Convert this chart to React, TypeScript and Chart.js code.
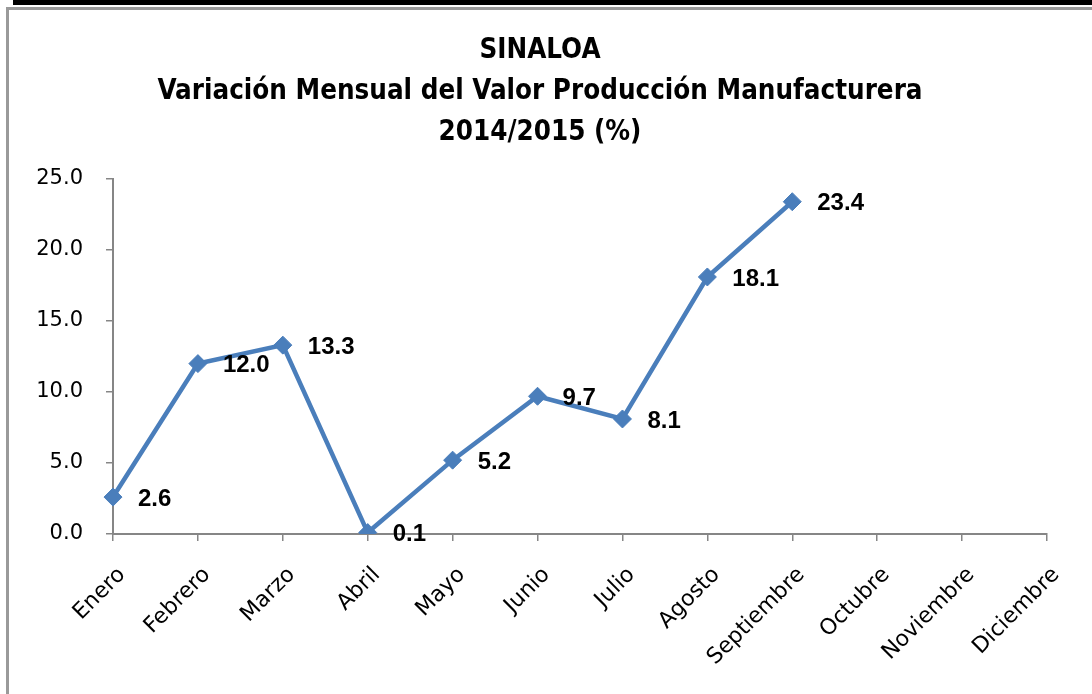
import React, { useEffect, useRef } from "react";
import { Chart, registerables } from "chart.js";

Chart.register(...registerables);

const titleLines = [
  "SINALOA",
  "Variación Mensual del Valor Producción Manufacturera",
  "2014/2015 (%)",
];
const months = [
  "Enero", "Febrero", "Marzo", "Abril", "Mayo", "Junio",
  "Julio", "Agosto", "Septiembre", "Octubre", "Noviembre", "Diciembre",
];
const variation: (number | null)[] = [2.6, 12.0, 13.3, 0.1, 5.2, 9.7, 8.1, 18.1, 23.4, null, null, null];
const yMin = 0;
const yMax = 25;
const yStep = 5;

const LINE = "#4A7EBB";
const AXIS = "#868686";

const titlePlugin = {
  id: "customTitle",
  afterDraw(chart: any) {
    const ctx = chart.ctx;
    ctx.save();
    ctx.fillStyle = "#000";
    ctx.textAlign = "center";
    ctx.textBaseline = "alphabetic";
    ctx.font = 'bold 27.5px "Liberation Sans Narrow", "DejaVu Sans Condensed", sans-serif';
    const baselines = [58, 99, 140];
    titleLines.forEach((t, i) => ctx.fillText(t, 540, baselines[i]));
    ctx.restore();
  },
};

const labelPlugin = {
  id: "pointLabels",
  afterDatasetsDraw(chart: any) {
    const ctx = chart.ctx;
    const meta = chart.getDatasetMeta(0);
    const data = chart.data.datasets[0].data;
    ctx.save();
    ctx.fillStyle = "#000";
    ctx.textAlign = "left";
    ctx.textBaseline = "middle";
    ctx.font = 'bold 24px "Liberation Sans", Arial, sans-serif';
    meta.data.forEach((pt: any, i: number) => {
      const v = data[i];
      if (v === null || v === undefined) return;
      ctx.fillText(Number(v).toFixed(1), pt.x + 25, pt.y + 2);
    });
    ctx.restore();
  },
};

export default function App() {
  const ref = useRef<HTMLCanvasElement | null>(null);
  useEffect(() => {
    if (!ref.current) return;
    const chart = new Chart(ref.current, {
      type: "line",
      data: {
        labels: months,
        datasets: [
          {
            data: variation,
            borderColor: LINE,
            backgroundColor: LINE,
            borderWidth: 4.5,
            pointStyle: "rectRot",
            pointRadius: 9,
            pointBorderWidth: 1,
            pointBackgroundColor: LINE,
            pointBorderColor: LINE,
            tension: 0,
            spanGaps: false,
          },
        ],
      },
      options: {
        animation: false,
        responsive: false,
        maintainAspectRatio: false,
        layout: { padding: { left: 20, top: 179, right: 45, bottom: 10 } },
        plugins: {
          legend: { display: false },
          title: { display: false },
          tooltip: { enabled: false },
        },
        scales: {
          x: {
            type: "category",
            offset: false,
            grid: {
              display: true,
              drawOnChartArea: false,
              drawTicks: true,
              tickLength: 7,
              color: AXIS,
              lineWidth: 1.5,
            },
            border: { display: true, color: AXIS, width: 2 },
            ticks: {
              color: "#000",
              font: { family: '"DejaVu Sans", sans-serif', size: 22 },
              minRotation: 45,
              maxRotation: 45,
              autoSkip: false,
              padding: 21,
              labelOffset: 9,
            },
            afterFit(scale: any) {
              scale.height = 150;
              scale.paddingLeft = 0;
              scale.paddingRight = 0;
            },
          },
          y: {
            min: yMin,
            max: yMax,
            grid: {
              display: true,
              drawOnChartArea: false,
              drawTicks: true,
              tickLength: 7,
              color: AXIS,
              lineWidth: 1.5,
            },
            border: { display: true, color: AXIS, width: 2 },
            ticks: {
              stepSize: yStep,
              color: "#000",
              font: { family: '"DejaVu Sans", sans-serif', size: 21 },
              padding: 23,
              callback: (v: any) => Number(v).toFixed(1),
            },
            afterFit(scale: any) {
              scale.width = 93;
              scale.paddingTop = 0;
              scale.paddingBottom = 0;
            },
          },
        },
      },
      plugins: [titlePlugin, labelPlugin],
    });
    return () => chart.destroy();
  }, []);

  return (
    <div style={{ position: "fixed", left: 0, top: 0, width: 1092, height: 694, background: "#fff", overflow: "hidden" }}>
      <div style={{ position: "absolute", left: 13, top: 0, width: 1079, height: 5, background: "#000" }} />
      <div style={{ position: "absolute", left: 6, top: 7, width: 1086, height: 3, background: "#9a9a9a" }} />
      <div style={{ position: "absolute", left: 6, top: 7, width: 3, height: 687, background: "#9a9a9a" }} />
      <canvas ref={ref} width={1092} height={694} style={{ position: "absolute", left: 0, top: 0, display: "block" }} />
    </div>
  );
}
